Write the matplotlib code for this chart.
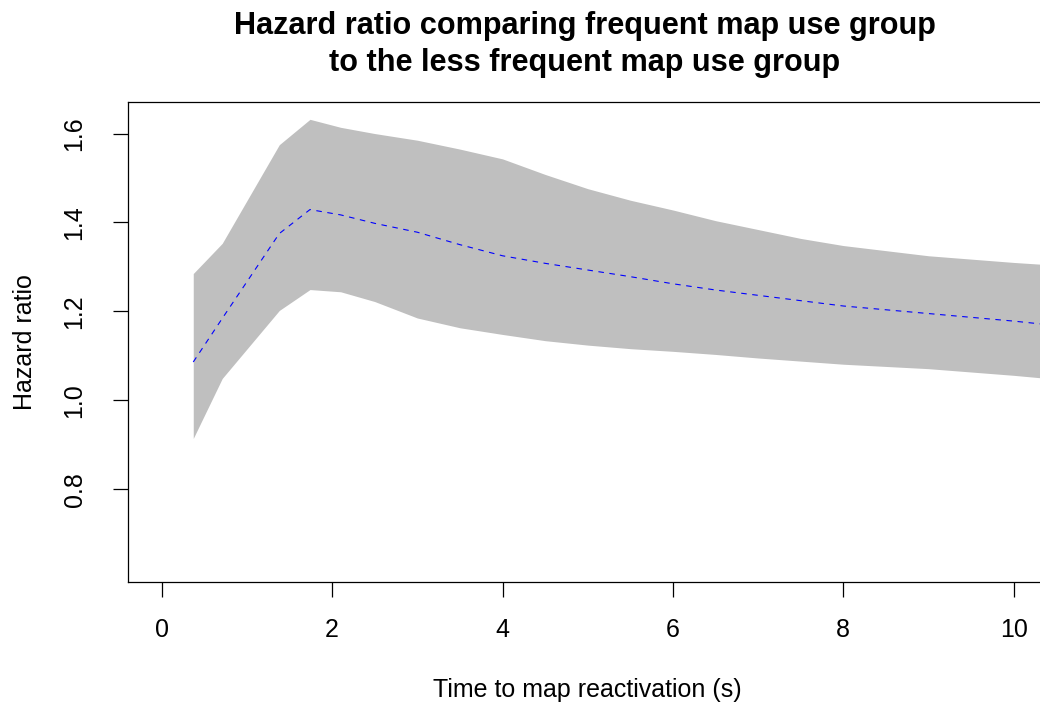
import matplotlib
matplotlib.use("Agg")
import matplotlib.pyplot as plt

plt.rcParams['font.family'] = ['Liberation Sans', 'DejaVu Sans']

# time grid (s) and hazard ratio estimate with confidence band
time_s = [0.37, 0.71, 1.38, 1.74, 2.1, 2.5, 3.0, 3.5, 4.0, 4.5, 5.0, 5.5, 6.0, 6.5, 7.0, 7.5, 8.0, 9.0, 10.0, 10.4]
hr_est = [1.086, 1.184, 1.375, 1.429, 1.417, 1.398, 1.378, 1.350, 1.325, 1.308, 1.293, 1.278, 1.262,
          1.248, 1.236, 1.224, 1.212, 1.195, 1.178, 1.170]
hr_upper = [1.285, 1.353, 1.575, 1.632, 1.614, 1.600, 1.585, 1.565, 1.543, 1.508, 1.476, 1.450, 1.428,
            1.404, 1.384, 1.364, 1.348, 1.325, 1.310, 1.305]
hr_lower = [0.914, 1.049, 1.202, 1.249, 1.244, 1.222, 1.185, 1.163, 1.148, 1.134, 1.124, 1.116, 1.110,
            1.103, 1.095, 1.088, 1.081, 1.071, 1.056, 1.049]

x_ticks = [0, 2, 4, 6, 8, 10]
y_ticks = [0.8, 1.0, 1.2, 1.4, 1.6]

W, H = 1040, 704
fig = plt.figure(figsize=(W / 100, H / 100), dpi=100)
# plot region in pixels: left 128, right ~1041 (cut off), top 102, bottom 582
ax = fig.add_axes([128 / W, 1 - 582 / H, (1041 - 128) / W, (582 - 102) / H])

ax.fill_between(time_s, hr_lower, hr_upper, color='#bfbfbf', linewidth=0)
ax.plot(time_s, hr_est, color='blue', linewidth=0.8, linestyle=(0, (5, 5)))

ax.set_xlim(-0.396, 10.32)
ax.set_ylim(0.591, 1.671)
ax.set_xticks(x_ticks)
ax.set_xticklabels([str(t) for t in x_ticks])
ax.set_yticks(y_ticks)
ax.set_yticklabels([f"{t:.1f}" for t in y_ticks], rotation=90, va='center')

for side in ['left', 'top', 'bottom']:
    ax.spines[side].set_color('black')
    ax.spines[side].set_linewidth(0.9)
ax.spines['right'].set_visible(False)

ax.tick_params(axis='both', direction='out', length=10.8, width=0.9, color='black',
               labelsize=18, labelcolor='black')
ax.tick_params(axis='x', pad=15)
ax.tick_params(axis='y', pad=19)

fig.text(584.5 / W, 1 - 11 / H,
         "Hazard ratio comparing frequent map use group\nto the less frequent map use group",
         ha='center', va='top', fontsize=22.1, fontweight='bold', linespacing=1.31)
fig.text(587 / W, 1 - 690 / H, "Time to map reactivation (s)", ha='center', va='center', fontsize=18)
fig.text(25 / W, 1 - 342 / H, "Hazard ratio", ha='center', va='center', rotation=90, fontsize=18)

fig.savefig("out.png", dpi=100)
